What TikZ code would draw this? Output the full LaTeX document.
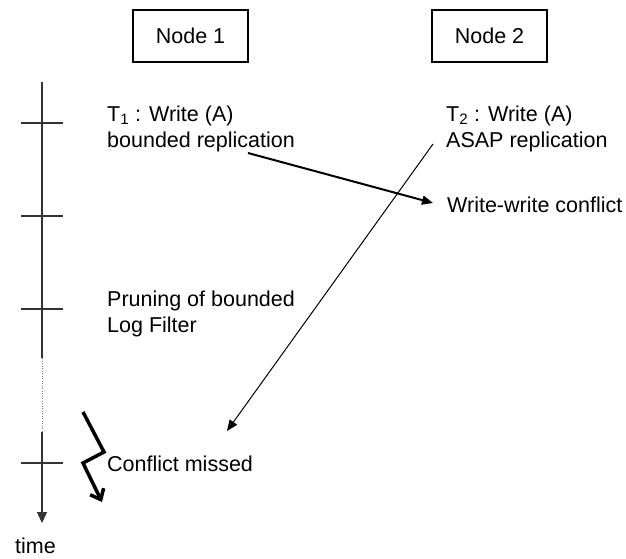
\documentclass[tikz,border=0pt]{standalone}
\usepackage{fontspec}
\setmainfont{Liberation Sans}
\usetikzlibrary{arrows.meta}
\begin{document}
\begin{tikzpicture}[x=1pt,y=-1pt,
  every node/.style={font=\fontsize{21.5}{26}\selectfont, inner sep=0pt},
  nodebox/.style={draw, line width=2pt, minimum width=115pt, minimum height=52pt},
  label/.style={anchor=base west, align=left},
  axis/.style={draw=black!80, line width=1.2pt},
  tick/.style={draw=black!80, line width=1.2pt},
  msg/.style={-{Triangle[length=11pt,width=9pt]}},
  bolt/.style={line width=3.5pt, line join=miter, -{Straight Barb[length=9pt,width=15pt,line width=3.5pt]}}
]
\useasboundingbox (0,0) rectangle (626,558);

% process boxes
\node[nodebox] (n1) at (190.5,36) {Node 1};
\node[nodebox] (n2) at (489.5,36) {Node 2};

% time axis
\coordinate (tTop) at (42,82);
\coordinate (tGapA) at (42,358);
\coordinate (tGapB) at (42,432);
\coordinate (tEnd) at (42,523);
\draw[axis] (tTop) -- (tGapA);
\draw[draw=black!55, line width=1pt, dash pattern=on 1pt off 1.5pt] (tGapA) -- (tGapB);
\draw[axis, -{Triangle[length=11pt,width=10pt]}] (tGapB) -- (tEnd);
\foreach \y in {123,216,309,463}
  \draw[tick] (21,\y) -- (63,\y);
\node[anchor=base west] (time) at (15,553) {time};

% events (multi-line labels are placed by their last baseline)
\node[label] (t1) at (107,147) {T\textsubscript{1} : Write (A)\\bounded replication};
\node[label] (t2) at (446,147) {T\textsubscript{2} : Write (A)\\ASAP replication};
\node[label] (ww) at (447,212) {Write-write conflict};
\node[label] (pr) at (107,332) {Pruning of bounded\\Log Filter};
\node[label] (cm) at (107,471) {Conflict missed};

% replication messages
\coordinate (m1s) at (248,153);
\coordinate (m1e) at (433,203);
\coordinate (m2s) at (433,144);
\coordinate (m2e) at (227,431);
\draw[msg, line width=2pt] (m1s) -- (m1e);
\draw[msg, line width=1pt] (m2s) -- (m2e);

% lightning bolt
\coordinate (b1) at (83,412);
\coordinate (b2) at (104,452);
\coordinate (b3) at (83,463);
\coordinate (b4) at (102,502);
\draw[bolt] (b1) -- (b2) -- (b3) -- (b4);
\end{tikzpicture}
\end{document}
